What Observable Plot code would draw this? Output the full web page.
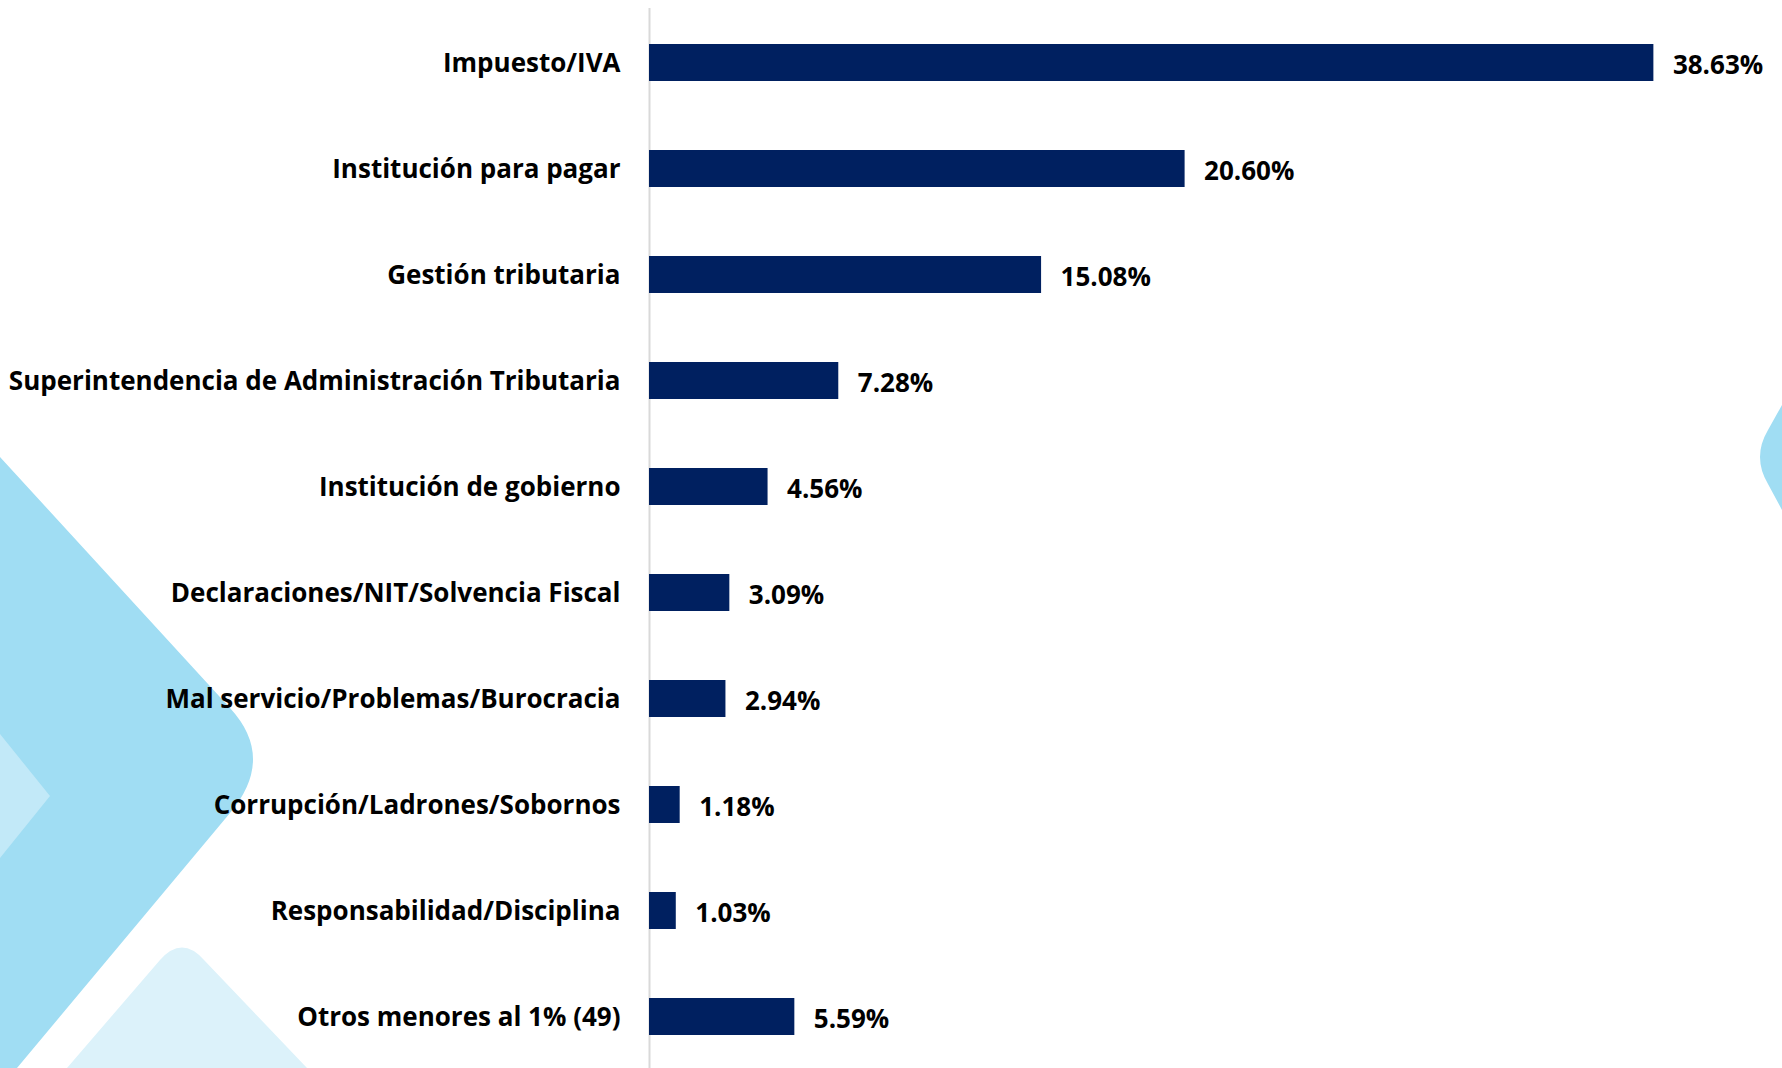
<!DOCTYPE html>
<html>
<head>
<meta charset="utf-8">
<script src="https://cdn.jsdelivr.net/npm/d3@7"></script>
<script src="https://cdn.jsdelivr.net/npm/@observablehq/plot@0.6"></script>
<style>
  html, body { margin: 0; padding: 0; background: #ffffff; }
  #wrap { position: relative; width: 1782px; height: 1068px; overflow: hidden; }
  #bg { position: absolute; left: 0; top: 0; }
  #chart { position: absolute; left: 0; top: 0; }
</style>
</head>
<body>
<div id="wrap">
  <!-- decorative slide background shapes -->
  <svg id="bg" width="1782" height="1068" viewBox="0 0 1782 1068">
    <path d="M0 457 L230 708 Q276 758 230 813 L17 1068 L0 1068 Z" fill="#a0ddf3"/>
    <path d="M0 734 L50 796 L0 858 Z" fill="#c2e9f8"/>
    <path d="M67 1068 L160 960 Q182 935 204 960 L307 1068 Z" fill="#dcf2fa"/>
    <path d="M1782 405 L1768 430 Q1752 457 1768 484 L1782 510 Z" fill="#a0ddf3"/>
  </svg>
  <div id="chart"></div>
</div>
<script>
const categories = [
  "Impuesto/IVA",
  "Institución para pagar",
  "Gestión tributaria",
  "Superintendencia de Administración Tributaria",
  "Institución de gobierno",
  "Declaraciones/NIT/Solvencia Fiscal",
  "Mal servicio/Problemas/Burocracia",
  "Corrupción/Ladrones/Sobornos",
  "Responsabilidad/Disciplina",
  "Otros menores al 1% (49)"
];
const values = [38.63, 20.60, 15.08, 7.28, 4.56, 3.09, 2.94, 1.18, 1.03, 5.59];
const valueLabels = ["38.63%", "20.60%", "15.08%", "7.28%", "4.56%", "3.09%", "2.94%", "1.18%", "1.03%", "5.59%"];

const data = categories.map((c, i) => ({category: c, value: values[i], label: valueLabels[i]}));

const FONT = '"Open Sans", Lato, "Liberation Sans", sans-serif';
const FS = 26;

const chart = Plot.plot({
  width: 1782,
  height: 1068,
  marginLeft: 649,
  marginRight: 93,
  marginTop: 21,
  marginBottom: 9,
  style: {background: "transparent", fontFamily: FONT, fontSize: FS + "px", fontWeight: "bold", color: "#000000"},
  x: {domain: [0, 40], axis: null},
  y: {domain: categories, paddingInner: 0.65, paddingOuter: 0.2, label: null},
  marks: [
    Plot.axisY({tickSize: 0, tickPadding: 29, dy: 1, fontSize: FS, fontWeight: "bold", fill: "#000000", label: null}),
    Plot.ruleX([0], {stroke: "#d9d9d9", strokeWidth: 2, insetTop: -13, insetBottom: -9}),
    Plot.barX(data, {x: "value", y: "category", fill: "#002060"}),
    Plot.text(data, {x: "value", y: "category", text: "label", textAnchor: "start", dx: 19, dy: 3, fontSize: FS, fontWeight: "bold", fill: "#000000"})
  ]
});
document.getElementById("chart").appendChild(chart);
</script>
</body>
</html>
